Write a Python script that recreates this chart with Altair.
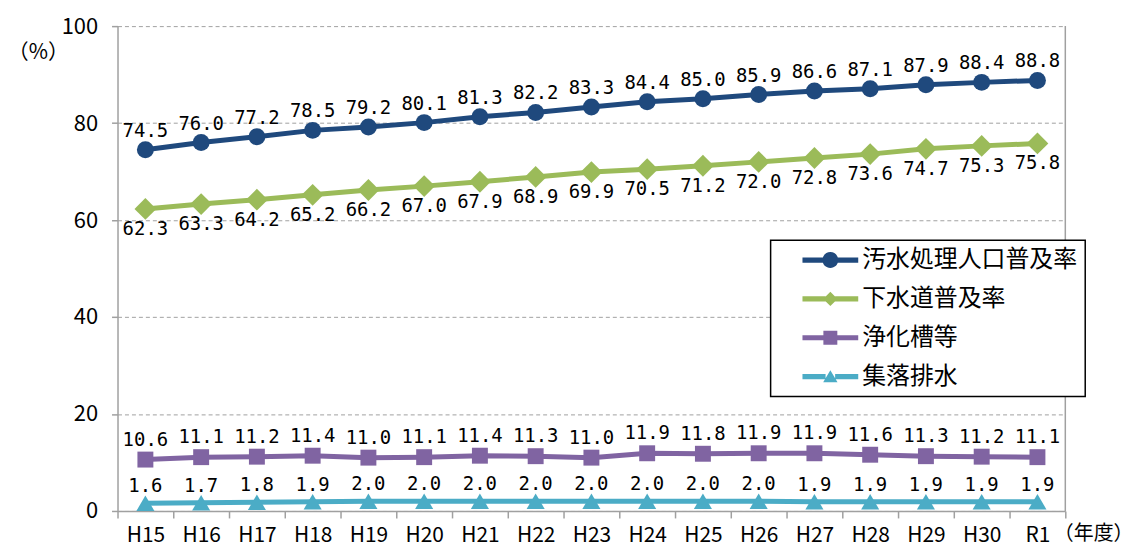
import altair as alt
import pandas as pd

years = ["H15", "H16", "H17", "H18", "H19", "H20", "H21", "H22", "H23",
         "H24", "H25", "H26", "H27", "H28", "H29", "H30", "R1"]
series_names = ["汚水処理人口普及率", "下水道普及率", "浄化槽等", "集落排水"]
osui = [74.5, 76.0, 77.2, 78.5, 79.2, 80.1, 81.3, 82.2, 83.3, 84.4, 85.0, 85.9, 86.6, 87.1, 87.9, 88.4, 88.8]
gesui = [62.3, 63.3, 64.2, 65.2, 66.2, 67.0, 67.9, 68.9, 69.9, 70.5, 71.2, 72.0, 72.8, 73.6, 74.7, 75.3, 75.8]
jokaso = [10.6, 11.1, 11.2, 11.4, 11.0, 11.1, 11.4, 11.3, 11.0, 11.9, 11.8, 11.9, 11.9, 11.6, 11.3, 11.2, 11.1]
shuraku = [1.6, 1.7, 1.8, 1.9, 2.0, 2.0, 2.0, 2.0, 2.0, 2.0, 2.0, 2.0, 1.9, 1.9, 1.9, 1.9, 1.9]
colors = ["#1f497d", "#9bbb59", "#8064a2", "#4bacc6"]
shapes = ["circle", "diamond", "square", "triangle-up"]
sizes = [290, 480, 256, 330]
label_dy = [-19, 20, -20, -17]

rows = []
for name, vals in zip(series_names, [osui, gesui, jokaso, shuraku]):
    for yr, v in zip(years, vals):
        rows.append({"year": yr, "series": name, "value": v})
df = pd.DataFrame(rows)

W, H = 952, 487
GRAY = "#a0a0a0"
CJK = "Noto Sans CJK JP"
NUM = "Liberation Sans Narrow, Noto Sans CJK JP"

xenc = alt.X("year:O", sort=years,
             scale=alt.Scale(type="band", domain=years, paddingInner=0, paddingOuter=0),
             axis=alt.Axis(title="（年度）", titleX=980, titleY=23, titleAlign="center",
                           titleBaseline="middle", titleFont=CJK, titleFontSize=20,
                           titleFontWeight="normal", titleColor="black",
                           labelAngle=0, labelFont=NUM, labelFontSize=21, labelColor="black",
                           labelPadding=7, tickBand="extent", tickSize=7, tickColor=GRAY,
                           tickWidth=1.5, domainColor=GRAY, domainWidth=1.5, grid=False))
yenc = alt.Y("value:Q",
             scale=alt.Scale(domain=[0, 100], nice=False),
             axis=alt.Axis(title="（%）", titleAngle=0, titleX=-80, titleY=27,
                           titleAlign="center", titleBaseline="middle", titleFont=CJK,
                           titleFontSize=21, titleFontWeight="normal", titleColor="black",
                           values=[0, 20, 40, 60, 80, 100], labelFont=NUM, labelFontSize=22,
                           labelColor="black", labelPadding=14, tickSize=6, tickColor=GRAY,
                           tickWidth=1.5, domainColor=GRAY, domainWidth=1.5,
                           grid=True, gridColor=GRAY, gridDash=[4, 3], gridWidth=1))
cscale = alt.Scale(domain=series_names, range=colors)

base = alt.Chart(df)
layers = []
for i, name in enumerate(series_names):
    layers.append(
        base.transform_filter(alt.datum.series == name)
        .mark_line(strokeWidth=5, color=colors[i])
        .encode(x=xenc, y=yenc))
for i, name in enumerate(series_names):
    layers.append(
        base.transform_filter(alt.datum.series == name)
        .mark_point(filled=True, shape=shapes[i], size=sizes[i], opacity=1, color=colors[i])
        .encode(x=xenc, y=yenc))
for i, name in enumerate(series_names):
    layers.append(
        base.transform_filter(alt.datum.series == name)
        .mark_text(dy=label_dy[i], font="DejaVu Sans Mono", fontSize=19, color="black",
                   baseline="middle")
        .encode(x=xenc, y=yenc, text=alt.Text("value:Q", format=".1f")))

# legend symbols: line with marker
paths = [
    "M-7,-0.65L-1.5,-0.65L-1.5,0.65L-7,0.65Z M1.5,-0.65L7,-0.65L7,0.65L1.5,0.65Z M-2,0A2,2 0 1,1 2,0A2,2 0 1,1 -2,0Z",
    "M-7,-0.65L-1.2,-0.65L-1.2,0.65L-7,0.65Z M1.2,-0.65L7,-0.65L7,0.65L1.2,0.65Z M0,-1.8L1.8,0L0,1.8L-1.8,0Z",
    "M-7,-0.65L-1.5,-0.65L-1.5,0.65L-7,0.65Z M1.5,-0.65L7,-0.65L7,0.65L1.5,0.65Z M-1.75,-1.75L1.75,-1.75L1.75,1.75L-1.75,1.75Z",
    "M-7,-0.65L-1.2,-0.65L-1.2,0.65L-7,0.65Z M1.2,-0.65L7,-0.65L7,0.65L1.2,0.65Z M0,-1.6L1.8,1.4L-1.8,1.4Z",
]
leg = alt.Legend(title=None, orient="none", legendX=656, legendY=215, padding=8,
                 strokeColor="black", fillColor="white", symbolOffset=40, labelOffset=20,
                 rowPadding=15, labelFontSize=24, labelFont=CJK, labelColor="black",
                 symbolSize=64, symbolStrokeWidth=0, labelLimit=400)
legend_layer = base.transform_filter("false").mark_point(filled=True, opacity=1, size=64).encode(
    x=xenc, y=yenc,
    color=alt.Color("series:N", scale=cscale, legend=leg),
    shape=alt.Shape("series:N", scale=alt.Scale(domain=series_names, range=paths), legend=leg))
layers.append(legend_layer)

border = alt.Chart(pd.DataFrame({"a": [0]})).mark_rule(color=GRAY, strokeWidth=1.5).encode(
    x=alt.value(W), y=alt.value(0), y2=alt.value(H))
layers.append(border)

chart = alt.layer(*layers).properties(
    width=W, height=H,
    autosize=alt.AutoSizeParams(type="none"),
    padding={"left": 110, "top": 17, "right": 70, "bottom": 38},
).configure_view(stroke=None).configure_legend(strokeWidth=1.5)

chart.save("out.html", embed_options={"renderer": "svg", "actions": False})
